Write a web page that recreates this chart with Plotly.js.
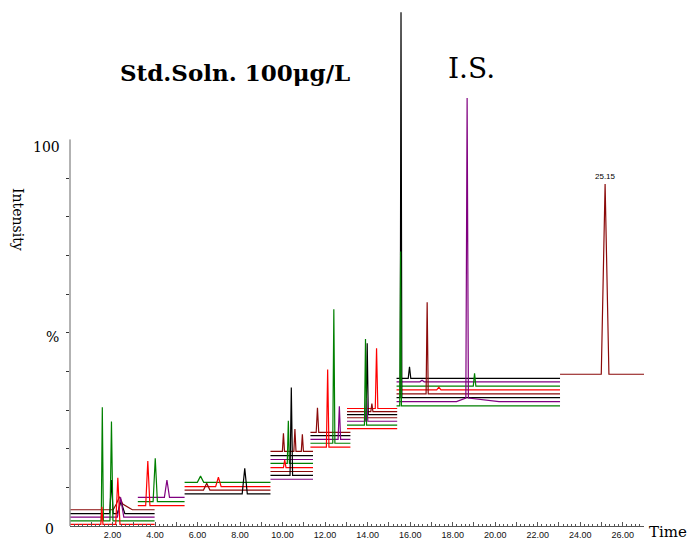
<!DOCTYPE html>
<html><head><meta charset="utf-8">
<script src="https://cdn.plot.ly/plotly-3.0.1.min.js"></script>
<style>html,body{margin:0;padding:0;background:#fff}</style>
</head><body>
<div id="chart" style="width:689px;height:540px"></div>
<script>
// ---- time windows (min) ----
const segStart = [0.02, 3.19, 5.39, 9.43, 11.31, 13.03, 15.36, 23.05];
const segEnd   = [3.98, 5.39, 9.43, 11.43, 13.19, 15.39, 23.05, 27.05];

// ---- traces: window index, colour, baseline intensity (%) ----
const traceSeg = [0,0,0,0,0, 1,1,1, 2,2,2,2, 3,3,3,3,3,3,3,3, 4,4,4,4,4, 5,5,5,5,5,5,5, 6,6,6,6,6,6,6,6, 7];
const traceColor = [
  'brown','black','purple','green','red',
  'purple','green','red',
  'green','red','brown','black',
  'brown','black','purple','green','red','brown','black','purple',
  'brown','black','purple','green','red',
  'red','brown','black','brown','purple','green','red',
  'black','purple','green','red','brown','black','purple','green',
  'brown'];
const traceBase = [
  4.2,3.2,2.3,1.3,0.4,
  7.4,6.3,5.25,
  11.3,10.2,9.3,8.3,
  19.3,18.2,17.2,16.2,15.1,14.1,13.1,12.1,
  24.2,23.4,22.4,21.4,20.4,
  30.4,29.6,28.8,28.0,27.1,26.1,25.2,
  38.2,37.3,36.2,35.2,34.2,33.2,32.2,31.1,
  39.25];

// ---- peaks: trace, retention time, apex intensity, half width, foot (left/right/height) ----
const peakTrace  = [3,4,3,1,4,2,0,1, 7,6,5, 8,10,9,11, 12,15,18,12,12,16, 20,24,23,22, 30,27,25,26,29, 37,39,32,36,38,34,33,35, 40];
const peakTime   = [1.52,1.50,1.95,1.95,2.25,2.38,2.33,2.40, 3.66,4.01,4.56, 6.14,6.43,6.98,8.22, 10.04,10.27,10.41,10.58,10.93,10.10, 11.64,12.12,12.41,12.67, 13.90,13.98,14.42,14.20,13.95, 15.57,15.55,15.97,16.80,18.68,19.03,16.56,17.35, 25.17];
const peakApex   = [30.7,5.0,27.0,11.9,12.5,7.4,7.6,6.3, 16.8,17.5,11.9, 12.9,11.05,12.6,14.9, 24.0,27.2,35.8,25.1,23.7,17.1, 30.6,40.5,56.1,31.0, 48.4,47.3,46.0,31.7,33.1, 132.9,71.0,41.2,57.9,110.7,39.5,37.7,35.9, 88.5];
const peakHalfW  = [0.05,0.05,0.07,0.08,0.10,0.15,0.15,0.18, 0.10,0.10,0.12, 0.15,0.15,0.13,0.12, 0.05,0.05,0.06,0.05,0.05,0.06, 0.06,0.06,0.05,0.06, 0.05,0.05,0.06,0.05,0.06, 0.04,0.04,0.06,0.05,0.06,0.06,0.10,0.10, 0.18];
const peakFootL  = [0,0,0,0,0,0,0.30,0, 0,0,0, 0,0,0,0, 0,0,0,0,0,0, 0,0,0,0, 0,0,0,0,0, 0,0,0,0,0.50,0,0,0, 0];
const peakFootR  = [0,0,0,0,0,0,0.60,0, 0,0,0, 0,0,0,0, 0,0,0,0,0,0, 0,0,0,0, 0,0,0,0,0, 0,0,0,0,1.50,0,0,0, 0];
const peakFootH  = [0,0,0,0,0,0,1.5,0, 0,0,0, 0,0,0,0, 0,0,0,0,0,0, 0,0,0,0, 0,0,0,0,0, 0,0,0,0,0.9,0,0,0, 0];
const peakLabel  = ['','','','','','','','', '','','', '','','','', '','','','','','', '','','','', '','','','','', '','','','','','','','', '25.15'];

// ---- axis ticks ----
const xTickVals = [1,2,3,4,5,6,7,8,9,10,11,12,13,14,15,16,17,18,19,20,21,22,23,24,25,26,27];
const xTickText = ['','2.00','','4.00','','6.00','','8.00','','10.00','','12.00','','14.00','','16.00','','18.00','','20.00','','22.00','','24.00','','26.00',''];
const yTickVals = [10,20,30,40,50,60,70,80,90];

const colorMap = {brown:'#8B0A0A', black:'#000000', purple:'#800080', green:'#008000', red:'#FF0000'};

const data = traceSeg.map((s, i) => {
  const base = traceBase[i];
  const pts = [[segStart[s], base]];
  const idx = peakTrace.map((t, k) => t === i ? k : -1).filter(k => k >= 0)
                       .sort((a, b) => peakTime[a] - peakTime[b]);
  idx.forEach(k => {
    const rt = peakTime[k], hw = peakHalfW[k];
    if (peakFootH[k] > 0) {
      pts.push([rt - peakFootL[k], base], [rt - hw, base + peakFootH[k]], [rt, peakApex[k]],
               [rt + hw, base + peakFootH[k]], [rt + peakFootR[k], base]);
    } else {
      pts.push([rt - hw, base], [rt, peakApex[k]], [rt + hw, base]);
    }
  });
  pts.push([segEnd[s], base]);
  return {
    type: 'scatter', mode: 'lines',
    x: pts.map(p => p[0]), y: pts.map(p => p[1]),
    line: {color: colorMap[traceColor[i]], width: 1.2},
    hoverinfo: 'skip', showlegend: false
  };
});

const serif = 'DejaVu Serif, Liberation Serif, serif';
const annotations = [
  {text: '<b>Std.Soln. 100μg/L</b>', xref: 'paper', yref: 'paper', x: (235-70)/574, y: (526-73)/518,
   xanchor: 'center', yanchor: 'middle', showarrow: false, font: {family: serif, size: 23, color: '#000'}},
  {text: 'I.S.', xref: 'paper', yref: 'paper', x: (471-70)/574, y: (526-68)/518,
   xanchor: 'center', yanchor: 'middle', showarrow: false, font: {family: serif, size: 28, color: '#000'}},
  {text: 'Intensity', xref: 'paper', yref: 'paper', x: (18-70)/574, y: (526-219)/518, textangle: 90,
   xanchor: 'center', yanchor: 'middle', showarrow: false, font: {family: serif, size: 14, color: '#000'}},
  {text: '100', xref: 'paper', yref: 'paper', x: (46-70)/574, y: (526-147)/518,
   xanchor: 'center', yanchor: 'middle', showarrow: false, font: {family: serif, size: 14, color: '#000'}},
  {text: '%', xref: 'paper', yref: 'paper', x: (52-70)/574, y: (526-337)/518,
   xanchor: 'center', yanchor: 'middle', showarrow: false, font: {family: serif, size: 14, color: '#000'}},
  {text: '0', xref: 'paper', yref: 'paper', x: (49-70)/574, y: (526-529)/518,
   xanchor: 'center', yanchor: 'middle', showarrow: false, font: {family: serif, size: 14, color: '#000'}},
  {text: 'Time', xref: 'paper', yref: 'paper', x: (668-70)/574, y: (526-532)/518,
   xanchor: 'center', yanchor: 'middle', showarrow: false, font: {family: serif, size: 15, color: '#000'}}
];
peakLabel.forEach((lab, k) => {
  if (lab) annotations.push({text: lab, x: peakTime[k], y: peakApex[k], xref: 'x', yref: 'y',
    xanchor: 'center', yanchor: 'bottom', yshift: 1, showarrow: false,
    font: {family: 'Liberation Sans, Arial, sans-serif', size: 8, color: '#000'}});
});

const layout = {
  width: 689, height: 540,
  margin: {l: 70, r: 45, t: 8, b: 14},
  paper_bgcolor: '#fff', plot_bgcolor: '#fff',
  xaxis: {range: [0, 27], showgrid: false, zeroline: false, showline: true, linecolor: '#555', linewidth: 1,
          ticks: 'inside', ticklen: 4, tickcolor: '#555', tickmode: 'array', tickvals: xTickVals, ticktext: xTickText,
          tickfont: {family: 'Liberation Sans, Arial, sans-serif', size: 9, color: '#111'},
          minor: {ticks: 'inside', ticklen: 2, tickcolor: '#555', tickmode: 'linear', tick0: 0, dtick: 0.2, showgrid: false}},
  yaxis: {range: [0, 134], showgrid: false, zeroline: false, showline: false,
          ticks: 'outside', ticklen: 3, tickcolor: '#333', tickmode: 'array', tickvals: yTickVals, showticklabels: false},
  shapes: [{type: 'line', xref: 'paper', yref: 'y', x0: 0, x1: 0, y0: 0, y1: 100, line: {color: '#666', width: 1}}],
  annotations: annotations
};
Plotly.newPlot('chart', data, layout, {staticPlot: true, displayModeBar: false});
</script>
</body></html>
